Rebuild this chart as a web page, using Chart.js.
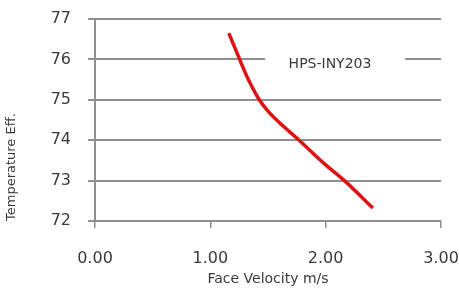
<!DOCTYPE html>
<html>
<head>
<meta charset="utf-8">
<script src="https://cdn.jsdelivr.net/npm/chart.js@4.4.0/dist/chart.umd.min.js"></script>
<style>
  html, body { margin: 0; padding: 0; background: #fff; }
  #wrap { width: 459px; height: 292px; }
</style>
</head>
<body>
<div id="wrap"><canvas id="myChart" width="459" height="292"></canvas></div>
<script>
// face velocity (m/s) vs temperature efficiency
const seriesName = 'HPS-INY203';
const velocity = [1.16, 1.25, 1.33, 1.42, 1.50, 1.60, 1.77, 1.98, 2.17, 2.41];
const tempEff = [76.65, 76.03, 75.5, 75.02, 74.72, 74.43, 74.0, 73.44, 72.98, 72.32];
const yTicks = [72, 73, 74, 75, 76, 77];
const xTicks = [0, 1, 2, 3];

const gridColor = '#8f8f8f';
const font = "'DejaVu Sans', sans-serif";
const textColor = '#3a3a3a';

// legend text sits on the 76 line with a white box behind it
const legendBox = {
  id: 'legendBox',
  afterDraw(chart) {
    const ctx = chart.ctx;
    const y = chart.scales.y.getPixelForValue(76);
    ctx.save();
    ctx.fillStyle = '#fff';
    ctx.fillRect(265, y - 9, 140, 20);
    ctx.fillStyle = textColor;
    ctx.font = '14px ' + font;
    ctx.textAlign = 'center';
    ctx.textBaseline = 'middle';
    ctx.fillText(chart.data.datasets[0].label, 330, y + 5);
    ctx.restore();
  }
};

const data = {
  datasets: [{
    label: seriesName,
    data: velocity.map((v, i) => ({ x: v, y: tempEff[i] })),
    borderColor: 'rgb(222, 18, 22)',
    backgroundColor: 'rgb(222, 18, 22)',
    borderWidth: 3.5,
    pointRadius: 0,
    tension: 0.35
  }]
};

const config = {
  type: 'line',
  data: data,
  options: {
    responsive: false,
    animation: false,
    layout: { padding: { left: 0, right: 18, top: 19, bottom: 0 } },
    plugins: {
      legend: { display: false },
      tooltip: { enabled: false }
    },
    scales: {
      x: {
        type: 'linear',
        min: 0,
        max: 3,
        afterBuildTicks: (s) => { s.ticks = xTicks.map(v => ({ value: v })); },
        afterFit: (s) => { s.height = 71; s.paddingLeft = 0; s.paddingRight = 0; },
        grid: { drawOnChartArea: false, drawTicks: true, tickLength: 7, color: gridColor, lineWidth: 1.5 },
        border: { display: false },
        ticks: {
          padding: 21,
          color: textColor,
          font: { family: font, size: 16 },
          callback: (v) => v.toFixed(2)
        },
        title: {
          display: true,
          text: 'Face Velocity m/s',
          color: textColor,
          font: { family: font, size: 14 },
          padding: { top: 0, bottom: 4 }
        }
      },
      y: {
        min: 72,
        max: 77,
        afterBuildTicks: (s) => { s.ticks = yTicks.map(v => ({ value: v })); },
        afterFit: (s) => { s.width = 95; s.paddingTop = 0; s.paddingBottom = 0; },
        grid: { color: gridColor, lineWidth: 2, tickLength: 7 },
        border: { color: gridColor, width: 2 },
        ticks: {
          padding: 17,
          color: textColor,
          font: { family: font, size: 16 }
        },
        title: {
          display: true,
          text: 'Temperature Eff.',
          align: 'start',
          color: textColor,
          font: { family: font, size: 13 },
          padding: { top: 4, bottom: 8 }
        }
      }
    }
  },
  plugins: [legendBox]
};

new Chart(document.getElementById('myChart'), config);
</script>
</body>
</html>
